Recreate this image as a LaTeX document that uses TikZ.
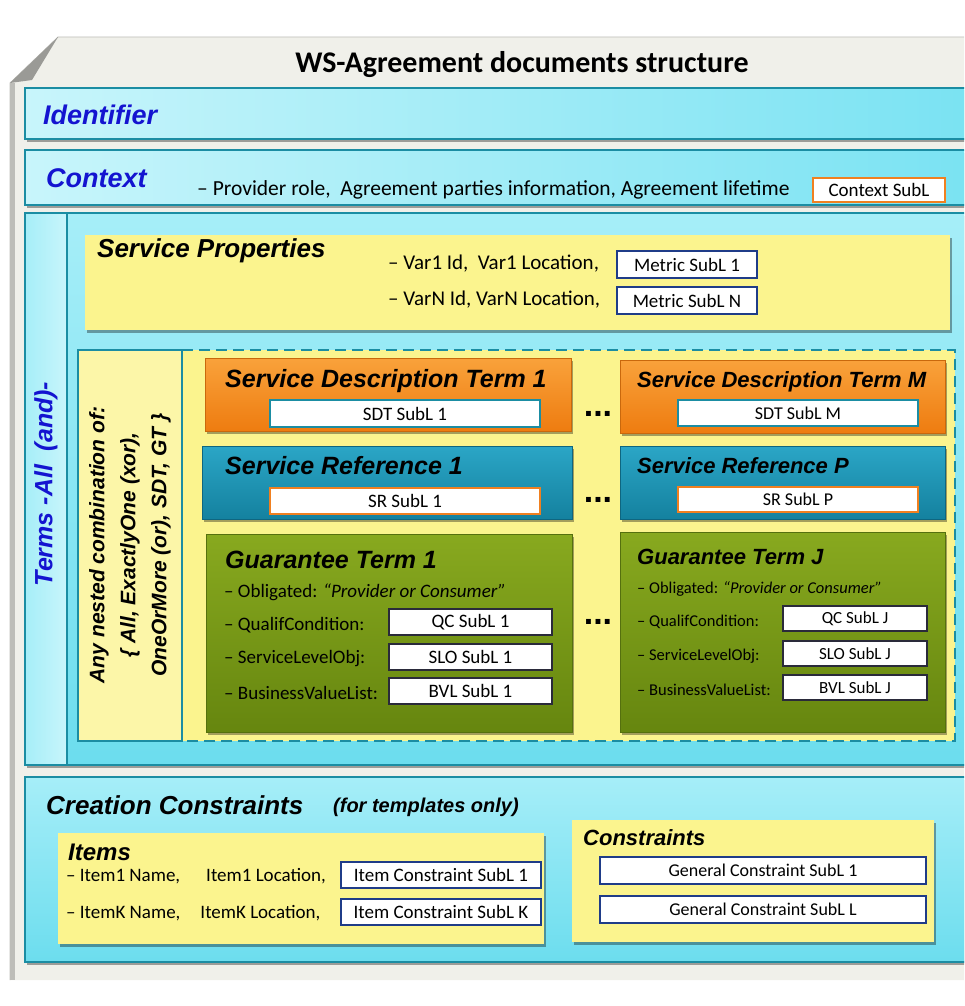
\documentclass[tikz,border=0pt]{standalone}
\usepackage{fontspec}
\setmainfont{Carlito}
\newfontfamily\arialfam{Liberation Sans}
\usetikzlibrary{shadows}

\definecolor{panel}{HTML}{F0F0EA}
\definecolor{paneledge}{HTML}{BDBDB8}
\definecolor{foldgrey}{HTML}{9A9A96}
\definecolor{cyanL}{HTML}{C8F5FB}
\definecolor{cyanD}{HTML}{78E2F2}
\definecolor{cyanT}{HTML}{A6EEF8}
\definecolor{cyanB}{HTML}{6CDDEE}
\definecolor{tealline}{HTML}{1B8DA3}
\definecolor{ylw}{HTML}{FBF48E}
\definecolor{ylwL}{HTML}{FCF6A8}
\definecolor{orgT}{HTML}{F9A23B}
\definecolor{orgB}{HTML}{EE7C10}
\definecolor{orgLine}{HTML}{C9680C}
\definecolor{srT}{HTML}{2BA6C6}
\definecolor{srB}{HTML}{14819F}
\definecolor{srLine}{HTML}{0E6680}
\definecolor{gtT}{HTML}{88A91F}
\definecolor{gtB}{HTML}{66860F}
\definecolor{gtLine}{HTML}{55700E}
\definecolor{lblue}{HTML}{1414D0}
\definecolor{subOrange}{HTML}{F08020}
\definecolor{subNavy}{HTML}{1F3C88}
\definecolor{subDark}{HTML}{2A2A3A}

\newcommand\hdfont[1]{\arialfam\bfseries\itshape\fontsize{#1}{#1}\selectfont}
\newcommand\bodyfont[1]{\fontsize{#1}{#1}\selectfont}

\tikzset{
  box/.style={anchor=north west, inner sep=0pt, outer sep=0pt},
  softshadow/.style={drop shadow={shadow xshift=1.5pt, shadow yshift=-2.5pt, opacity=0.35, fill=black}},
  band/.style={box, draw=tealline, line width=1.6pt, softshadow},
  term/.style={box, line width=1pt, softshadow},
  hd/.style={anchor=west, inner sep=0pt, font=\hdfont{#1}},
  bt/.style={anchor=west, inner sep=0pt, font=\bodyfont{#1}},
  subl/.style={box, fill=white, line width=1.5pt, draw=#1},
  sublfont/.style={font=\bodyfont{#1}},
  dotrow/.style={inner sep=0pt, font=\arialfam\bfseries\fontsize{34}{34}\selectfont},
  dashline/.style={draw=tealline, line width=2.2pt, dash pattern=on 11pt off 6pt},
}

\begin{document}
\begin{tikzpicture}[x=1pt, y=-1pt]
\useasboundingbox (0,0) rectangle (964,1006);
\clip (0,0) rectangle (964,1006);

% paper slab with folded corner
\fill[panel] (10,83) -- (58,37) -- (990,37) -- (990,980) -- (10,980) -- cycle;
\draw[paneledge, line width=0.8pt] (10,980) -- (10,83) -- (58,37) -- (990,37);
\fill[foldgrey] (10,83) -- (58,37) -- (32,80) -- cycle;
\fill[paneledge] (10,83) rectangle (15,980);

% title
\node[inner sep=0pt, font=\bfseries\fontsize{30}{30}\selectfont] (title) at (522,65) {WS-Agreement documents structure};

% Identifier band
\node[band, left color=cyanL, right color=cyanD, minimum width=970pt, minimum height=51pt] (ident) at (25,88) {};
\node[hd=27, text=lblue] (identlbl) at (43,115) {Identifier};

% Context band
\node[band, left color=cyanL, right color=cyanD, minimum width=970pt, minimum height=55pt] (ctx) at (25,150) {};
\node[hd=27, text=lblue] (ctxlbl) at (46,178) {Context};
\node[bt=21.5] (ctxtxt) at (197,190) {– Provider role,\ \ Agreement parties information, Agreement lifetime};
\node[subl=subOrange, sublfont=19, minimum width=132pt, minimum height=24pt] (ctxsub) at (813,178) {Context SubL};

% Terms band: label strip and inner area
\node[band, left color=cyanT, right color=cyanL, minimum width=42pt, minimum height=552pt] (termstrip) at (25,213) {};
\node[band, top color=cyanT, bottom color=cyanB, minimum width=925pt, minimum height=552pt] (termsin) at (67,213) {};
\node[hd=25, text=lblue, anchor=center, rotate=90] (termslbl) at (46,484) {Terms -All\ \ (and)-};

% Service Properties
\node[box, fill=ylw, softshadow, minimum width=865pt, minimum height=95pt] (sp) at (85,235) {};
\node[hd=26] (sptitle) at (97,251) {Service Properties};
\node[bt=21] (var1) at (388,264) {– Var1 Id,\ \ Var1 Location,};
\node[subl=subNavy, sublfont=19, minimum width=140pt, minimum height=27pt] (met1) at (617,251) {Metric SubL 1};
\node[bt=21] (varn) at (388,300) {– VarN Id, VarN Location,};
\node[subl=subNavy, sublfont=19, minimum width=140pt, minimum height=27pt] (metn) at (617,287) {Metric SubL N};

% nested-combination column and dashed terms area
\node[box, fill=ylw, minimum width=773pt, minimum height=391pt] (dash) at (182,350) {};
\node[box, fill=ylwL, draw=tealline, line width=2pt, minimum width=104pt, minimum height=391pt] (nest) at (78,350) {};
\draw[dashline] (dash.north west) -- (dash.north east) -- (dash.south east) -- (dash.south west);
\node[rotate=90, align=center, inner sep=0pt, font=\arialfam\bfseries\itshape\fontsize{21}{31}\selectfont] (nestlbl) at (130,545)
  {Any nested combination of:\\ \{ All, ExactlyOne (xor),\\ OneOrMore (or), SDT, GT \}};

% Service Description Terms
\node[term, top color=orgT, bottom color=orgB, draw=orgLine, minimum width=366pt, minimum height=73pt] (sdt1) at (205,358) {};
\node[hd=25] (sdt1t) at (225,381) {Service Description Term 1};
\node[subl=tealline, sublfont=19, minimum width=270pt, minimum height=27pt] (sdt1s) at (270,400) {SDT SubL 1};
\node[term, top color=orgT, bottom color=orgB, draw=orgLine, minimum width=325pt, minimum height=73pt] (sdtm) at (620,360) {};
\node[hd=22] (sdtmt) at (637,382) {Service Description Term M};
\node[subl=tealline, sublfont=18, minimum width=240pt, minimum height=26pt] (sdtms) at (678,400) {SDT SubL M};
\node[dotrow] (dots1) at (598,414) {...};

% Service References
\node[term, top color=srT, bottom color=srB, draw=srLine, minimum width=370pt, minimum height=73pt] (sr1) at (202,446) {};
\node[hd=25] (sr1t) at (225,466) {Service Reference 1};
\node[subl=subOrange, sublfont=19, minimum width=270pt, minimum height=26pt] (sr1s) at (270,488) {SR SubL 1};
\node[term, top color=srT, bottom color=srB, draw=srLine, minimum width=325pt, minimum height=73pt] (srp) at (620,446) {};
\node[hd=22] (srpt) at (637,466) {Service Reference P};
\node[subl=subOrange, sublfont=18, minimum width=240pt, minimum height=25pt] (srps) at (678,487) {SR SubL P};
\node[dotrow] (dots2) at (598,500) {...};

% Guarantee Terms
\node[term, top color=gtT, bottom color=gtB, draw=gtLine, minimum width=366pt, minimum height=198pt] (gt1) at (206,534) {};
\node[hd=25] (gt1t) at (225,560) {Guarantee Term 1};
\node[bt=19] (gt1o) at (224,592) {– Obligated: \textit{“Provider or Consumer”}};
\node[bt=19] (gt1q) at (224,625) {– QualifCondition:};
\node[bt=19] (gt1l) at (224,659) {– ServiceLevelObj:};
\node[bt=19] (gt1b) at (224,693) {– BusinessValueList:};
\node[subl=subDark, sublfont=19, minimum width=163pt, minimum height=26pt] (qc1) at (389,609) {QC SubL 1};
\node[subl=subDark, sublfont=19, minimum width=163pt, minimum height=26pt] (slo1) at (389,644) {SLO SubL 1};
\node[subl=subDark, sublfont=19, minimum width=163pt, minimum height=26pt] (bvl1) at (389,678) {BVL SubL 1};

\node[term, top color=gtT, bottom color=gtB, draw=gtLine, minimum width=325pt, minimum height=200pt] (gtj) at (620,532) {};
\node[hd=22] (gtjt) at (637,557) {Guarantee Term J};
\node[bt=16.5] (gtjo) at (637,589) {– Obligated: \textit{“Provider or Consumer”}};
\node[bt=16.5] (gtjq) at (637,622) {– QualifCondition:};
\node[bt=16.5] (gtjl) at (637,656) {– ServiceLevelObj:};
\node[bt=16.5] (gtjb) at (637,690) {– BusinessValueList:};
\node[subl=subDark, sublfont=17, minimum width=144pt, minimum height=25pt] (qcj) at (783,606) {QC SubL J};
\node[subl=subDark, sublfont=17, minimum width=144pt, minimum height=25pt] (sloj) at (783,641) {SLO SubL J};
\node[subl=subDark, sublfont=17, minimum width=144pt, minimum height=25pt] (bvlj) at (783,675) {BVL SubL J};
\node[dotrow] (dots3) at (598,622) {...};

% Creation Constraints band
\node[band, top color=cyanT, bottom color=cyanB, minimum width=970pt, minimum height=185pt] (cc) at (25,777) {};
\node[hd=26, anchor=base west] (cctitle) at (46,814) {Creation Constraints};
\node[hd=20, anchor=base west] (ccnote) at (333,812) {(for templates only)};

% Items
\node[box, fill=ylw, softshadow, minimum width=486pt, minimum height=111pt] (items) at (58,833) {};
\node[hd=24] (itemslbl) at (68,852) {Items};
\node[bt=19] (item1) at (66,876) {– Item1 Name,\hspace{26pt}Item1 Location,};
\node[subl=subNavy, sublfont=19, minimum width=200pt, minimum height=26pt] (ic1) at (341,862) {Item Constraint SubL 1};
\node[bt=19] (itemk) at (66,913) {– ItemK Name,\hspace{20pt}ItemK Location,};
\node[subl=subNavy, sublfont=19, minimum width=200pt, minimum height=26pt] (ick) at (341,899) {Item Constraint SubL K};

% Constraints
\node[box, fill=ylw, softshadow, minimum width=362pt, minimum height=122pt] (cons) at (572,820) {};
\node[hd=22] (conslbl) at (583,838) {Constraints};
\node[subl=subNavy, sublfont=18, minimum width=326pt, minimum height=27pt] (gc1) at (600,857) {General Constraint SubL 1};
\node[subl=subNavy, sublfont=18, minimum width=326pt, minimum height=27pt] (gcl) at (600,896) {General Constraint SubL L};
\end{tikzpicture}
\end{document}
